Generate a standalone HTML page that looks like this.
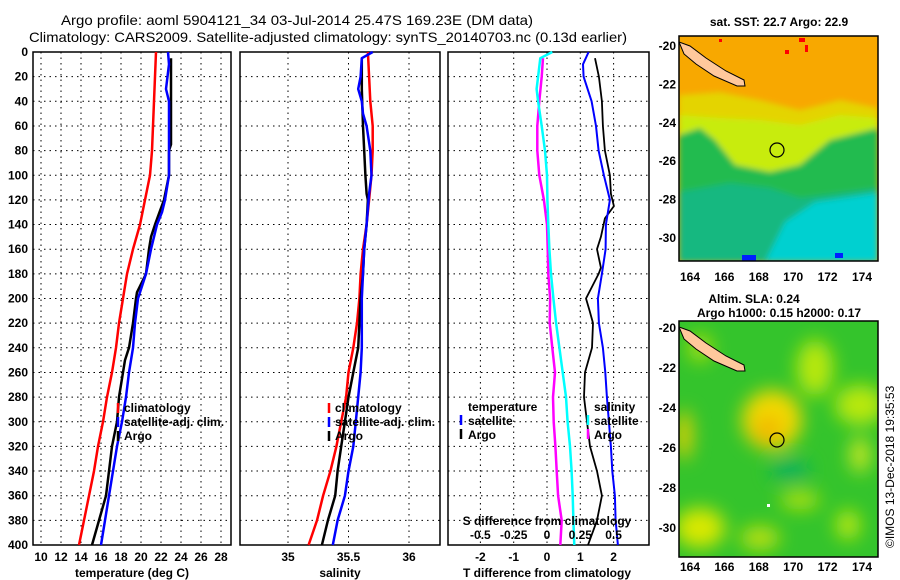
<!DOCTYPE html>
<html><head><meta charset="utf-8"><style>
html,body{margin:0;padding:0;background:#fff;}
svg{display:block;font-family:"Liberation Sans",Arial,sans-serif;}
.t{font-size:12px;font-weight:bold;fill:#000;}
.h{font-size:14px;fill:#000;}
</style></head><body>
<svg id="fig" width="900" height="580" viewBox="0 0 900 580" xmlns="http://www.w3.org/2000/svg">
<text class="h" x="61" y="25" textLength="472" lengthAdjust="spacingAndGlyphs">Argo profile: aoml 5904121_34 03-Jul-2014 25.47S 169.23E (DM data)</text>
<text class="h" x="29" y="42" textLength="598" lengthAdjust="spacingAndGlyphs">Climatology: CARS2009. Satellite-adjusted climatology: synTS_20140703.nc (0.13d earlier)</text>
<g id="panels"></g>
<g id="maps">
 <defs>
  <clipPath id="c1"><rect x="679" y="36" width="199" height="225"/></clipPath>
  <clipPath id="c2"><rect x="679" y="321" width="199" height="236"/></clipPath>
  <filter id="bl" x="-50%" y="-50%" width="200%" height="200%"><feGaussianBlur stdDeviation="9"/></filter>
  <filter id="bl2" x="-20%" y="-20%" width="140%" height="140%"><feGaussianBlur stdDeviation="3"/></filter>
 </defs>
 <g clip-path="url(#c1)">
  <rect x="679" y="36" width="199" height="225" fill="#f8a800"/>
  <g filter="url(#bl2)">
  <path d="M679 95 L720 92 L760 100 L800 110 L840 100 L878 108 L878 262 L679 262Z" fill="#e4d400"/>
  <path d="M679 115 L720 118 L760 120 L800 125 L840 115 L878 118 L878 262 L679 262Z" fill="#c8ec10"/>
  <path d="M679 135 L700 128 L715 140 L735 165 L770 172 L800 165 L830 140 L878 128 L878 262 L679 262Z" fill="#20bb50"/>
  <path d="M679 192 L730 183 L770 188 L800 198 L878 188 L878 262 L679 262Z" fill="#14b880"/>
  <path d="M765 262 L785 222 L815 202 L850 197 L878 193 L878 262Z" fill="#00d0d0"/>
  </g>
  <rect x="742" y="255" width="14" height="7" fill="#0020ff"/>
  <rect x="835" y="253" width="8" height="5" fill="#0020ff"/>
  <rect x="799" y="38" width="6" height="4" fill="#ff0000"/>
  <rect x="805" y="45" width="3" height="7" fill="#ff0000"/>
  <rect x="785" y="50" width="4" height="4" fill="#ff0000"/>
  <rect x="719" y="39" width="3" height="3" fill="#ff0000"/>
  <path d="M679 42 L690 46 L706 58 L726 71 L744 80 L745 86 L737 86 L714 76 L696 64 L684 54Z" fill="#ffc89c" stroke="#000" stroke-width="1"/>
  <circle cx="777" cy="150" r="7" fill="none" stroke="#000" stroke-width="1.2"/>
 </g>
 <rect x="679" y="36" width="199" height="225" fill="none" stroke="#000" stroke-width="1.5"/>
 <g clip-path="url(#c2)">
  <rect x="679" y="321" width="199" height="236" fill="#34c42c"/>
  <g filter="url(#bl)">
   <ellipse cx="772" cy="420" rx="30" ry="30" fill="#f2d800"/>
   <ellipse cx="768" cy="430" rx="14" ry="14" fill="#f0b800"/>
   <ellipse cx="815" cy="368" rx="18" ry="28" fill="#b8e810"/>
   <ellipse cx="860" cy="405" rx="25" ry="20" fill="#b8e810"/>
   <ellipse cx="860" cy="455" rx="10" ry="18" fill="#c8e820"/>
   <ellipse cx="700" cy="528" rx="25" ry="20" fill="#d8e800"/>
   <ellipse cx="760" cy="538" rx="20" ry="12" fill="#b8e010"/>
   <ellipse cx="848" cy="525" rx="12" ry="15" fill="#b8e810"/>
   <ellipse cx="684" cy="435" rx="8" ry="25" fill="#e8d000"/>
   <ellipse cx="700" cy="348" rx="12" ry="14" fill="#a8e010"/>
   <ellipse cx="790" cy="470" rx="20" ry="10" fill="#10b060"/>
   <ellipse cx="800" cy="500" rx="20" ry="10" fill="#a8e010"/>
  </g>
  <path d="M679 327 L690 331 L706 343 L726 356 L744 365 L745 371 L737 371 L714 361 L696 349 L684 339Z" fill="#ffc89c" stroke="#000" stroke-width="1"/>
  <circle cx="777" cy="440" r="7" fill="none" stroke="#000" stroke-width="1.2"/>
  <rect x="767" y="504" width="3" height="3" fill="#fff"/>
 </g>
 <rect x="679" y="321" width="199" height="236" fill="none" stroke="#000" stroke-width="1.5"/>
 <text class="t" x="779" y="26" text-anchor="middle">sat. SST: 22.7 Argo: 22.9</text>
 <text class="t" x="754" y="303" text-anchor="middle">Altim. SLA: 0.24</text>
 <text class="t" x="779" y="317" text-anchor="middle">Argo h1000: 0.15 h2000: 0.17</text>
 <text transform="translate(894,548) rotate(-90)" font-size="12" fill="#000">©IMOS 13-Dec-2018 19:35:53</text>
</g>
</svg>
<script>
// ---- data ----
const depthTicks=[0,20,40,60,80,100,120,140,160,180,200,220,240,260,280,300,320,340,360,380,400];
const tempTicks=[10,12,14,16,18,20,22,24,26,28];
const salTicks=[35,35.5,36];
const salTickLabels=["35","35.5","36"];
const tdiffTicks=[-2,-1,0,1,2];
const sdiffTicks=[-0.5,-0.25,0,0.25,0.5];
const sdiffTickLabels=["-0.5","-0.25","0","0.25","0.5"];
const stdDepth=[0,20,40,60,80,100,120,140,160,180,200,220,240,260,280,300,320,340,360,380,400];
const tempClim=[21.5,21.4,21.3,21.2,21.1,20.9,20.4,19.9,19.2,18.6,18.2,17.8,17.5,17.1,16.6,16.2,15.7,15.3,14.8,14.3,13.8];
const tempSatDepth=[0,10,30,40,60,80,100,110,120,130,140,160,180,200,220,240,260,280,300,320,340,360,380,400];
const tempSat=[22.7,22.8,22.5,22.8,22.8,22.8,22.8,22.6,22.4,22.1,21.6,21.0,20.5,19.7,19.4,19.2,18.8,18.5,18.1,17.6,17.2,16.8,16.4,16.0];
const tempArgoDepth=[5,40,75,80,100,120,140,150,160,180,195,200,220,240,250,260,280,300,320,340,360,380,400];
const tempArgo=[23.0,23.0,23.0,22.8,22.8,22.3,21.4,21.0,20.8,20.5,19.6,19.5,19.2,18.8,18.4,18.2,17.8,17.6,17.1,16.8,16.5,15.8,15.1];
const salClim=[35.66,35.67,35.68,35.70,35.70,35.69,35.67,35.65,35.62,35.60,35.59,35.57,35.54,35.50,35.48,35.44,35.40,35.35,35.29,35.24,35.17];
const salSatDepth=[0,5,20,30,40,50,60,80,100,115,140,160,180,200,220,240,260,280,300,320,340,360,380,400];
const salSat=[35.70,35.61,35.60,35.58,35.61,35.62,35.65,35.68,35.69,35.67,35.65,35.63,35.62,35.61,35.61,35.61,35.60,35.58,35.56,35.54,35.50,35.47,35.41,35.37];
const salArgoDepth=[5,30,60,80,100,115,120,140,160,180,200,220,240,260,280,300,320,340,360,380,400];
const salArgo=[35.61,35.61,35.62,35.63,35.64,35.65,35.66,35.65,35.63,35.62,35.60,35.59,35.58,35.54,35.50,35.47,35.44,35.41,35.39,35.33,35.28];
const tdSatDepth=[0,10,20,40,60,80,100,120,140,160,180,200,220,240,260,280,300,320,340,360,380,400];
const tdSat=[1.25,1.08,1.1,1.34,1.47,1.55,1.71,1.89,1.77,1.76,1.65,1.53,1.56,1.68,1.75,1.8,1.86,1.92,1.96,2.04,2.06,2.13];
const tdArgoDepth=[5,20,40,60,80,100,115,125,135,150,160,175,180,200,210,220,240,260,280,300,320,340,360,380,400];
const tdArgo=[1.44,1.56,1.65,1.68,1.74,1.89,1.92,2.01,1.74,1.62,1.5,1.62,1.55,1.17,1.28,1.38,1.35,1.14,1.11,1.2,1.29,1.5,1.65,1.5,1.23];
const sdSatDepth=[0,5,20,30,40,60,80,100,120,140,160,180,200,220,240,260,280,300,320,340,360,380,400];
const sdSat=[0.04,-0.05,-0.067,-0.078,-0.067,-0.04,-0.015,0,0.003,0.01,0.018,0.03,0.048,0.068,0.093,0.118,0.143,0.155,0.173,0.185,0.193,0.198,0.205];
const sdArgoDepth=[5,20,40,60,80,100,120,140,160,180,200,220,240,260,280,300,320,340,360,380,400];
const sdArgo=[-0.03,-0.04,-0.058,-0.073,-0.073,-0.058,-0.023,0,0.005,0.01,0.023,0.02,0.04,0.06,0.045,0.05,0.063,0.073,0.083,0.11,0.1];
const lonTicks=[164,166,168,170,172,174];
const latTicks=[-20,-22,-24,-26,-28,-30];

const NS="http://www.w3.org/2000/svg";
const root=document.getElementById('panels');
function mk(tag,attrs,parent){const e=document.createElementNS(NS,tag);for(const k in attrs)e.setAttribute(k,attrs[k]);(parent||root).appendChild(e);return e;}
const Y0=52,Y1=545;
function yD(d){return Y0+d*(Y1-Y0)/400;}
const xT=v=>41+(v-10)*10;
const xS=v=>348.5+(v-35.5)*121;
const xTD=v=>547+v*33.3;
const xSD=v=>547+v*133.2;
const panels=[{x0:33,x1:231},{x0:240,x1:440},{x0:448,x1:649}];

function gridAndFrame(p,ticks,xf,name){
  for(const d of depthTicks){ if(d===0||d===400)continue;
    const l=mk('line',{x1:p.x0,x2:p.x1,y1:yD(d),y2:yD(d),stroke:'#000','stroke-width':1,'stroke-dasharray':'1.5,4'});
    
    
  }
  for(const t of ticks){
    const l=mk('line',{x1:xf(t),x2:xf(t),y1:Y0,y2:Y1,stroke:'#000','stroke-width':1,'stroke-dasharray':'1.5,4'});
    
    
  }
  const r=mk('rect',{x:p.x0,y:Y0,width:p.x1-p.x0,height:Y1-Y0,fill:'none',stroke:'#000','stroke-width':1.5});
  
  
}
function series(ds,vs,xf,color,name,w){
  let d='';
  for(let i=0;i<ds.length;i++)d+=(i?'L':'M')+xf(vs[i]).toFixed(1)+' '+yD(ds[i]).toFixed(1);
  const p=mk('path',{d:d,fill:'none',stroke:color,'stroke-width':w||2.5,'stroke-linejoin':'round'});
  
  
}
function text(x,y,s,anchor,name,size){
  const t=mk('text',{x:x,y:y,class:'t','text-anchor':anchor||'start'});
  if(size)t.setAttribute('font-size',size);
  t.textContent=s;
  
  
  return t;
}
function legMark(x,y,color,name){
  const l=mk('line',{x1:x,x2:x,y1:y-10,y2:y,stroke:color,'stroke-width':2.5});
  
  
}

// panel 1
gridAndFrame(panels[0],tempTicks,xT,'temp-panel');
for(const d of depthTicks) text(28,yD(d)+4,String(d),'end','depth-tick-label');
for(const t of tempTicks) text(xT(t),561,String(t),'middle','temp-tick-label');
text(132,577,'temperature (deg C)','middle','temp-x-axis-title');
series(stdDepth,tempClim,xT,'#ff0000','temp-climatology-line');
series(tempArgoDepth,tempArgo,xT,'#000','temp-argo-line');
series(tempSatDepth,tempSat,xT,'#0000ff','temp-satellite-line');
legMark(118,413,'#ff0000','legend-climatology-marker');text(124,412,'climatology','start','legend-climatology');
legMark(118,427,'#0000ff','legend-satellite-marker');text(124,426,'satellite-adj. clim.','start','legend-satellite-adj');
legMark(118,441,'#000','legend-argo-marker');text(124,440,'Argo','start','legend-argo');

// panel 2
gridAndFrame(panels[1],salTicks,xS,'sal-panel');
salTicks.forEach((t,i)=>text(xS(t),561,salTickLabels[i],'middle','sal-tick-label'));
text(340,577,'salinity','middle','sal-x-axis-title');
series(stdDepth,salClim,xS,'#ff0000','sal-climatology-line');
series(salArgoDepth,salArgo,xS,'#000','sal-argo-line');
series(salSatDepth,salSat,xS,'#0000ff','sal-satellite-line');
legMark(329,413,'#ff0000','legend2-climatology-marker');text(335,412,'climatology','start','legend2-climatology');
legMark(329,427,'#0000ff','legend2-satellite-marker');text(335,426,'satellite-adj. clim.','start','legend2-satellite-adj');
legMark(329,441,'#000','legend2-argo-marker');text(335,440,'Argo','start','legend2-argo');

// panel 3
gridAndFrame(panels[2],tdiffTicks,xTD,'diff-panel');
tdiffTicks.forEach(t=>text(xTD(t),561,String(t),'middle','tdiff-tick-label'));
text(547,577,'T difference from climatology','middle','tdiff-x-axis-title');
series(sdArgoDepth,sdArgo,xSD,'#ff00ff','sdiff-argo-line');
series(sdSatDepth,sdSat,xSD,'#00ffff','sdiff-satellite-line');
series(tdArgoDepth,tdArgo,xTD,'#000','tdiff-argo-line',1.8);
series(tdSatDepth,tdSat,xTD,'#0000ff','tdiff-satellite-line',2);
text(468,411,'temperature','start','legend3-temperature');
legMark(461,425,'#0000ff','legend3-tsat-marker');text(468,425,'satellite','start','legend3-tsat');
legMark(461,439,'#000','legend3-targo-marker');text(468,439,'Argo','start','legend3-targo');
text(594,411,'salinity','start','legend3-salinity');
legMark(588,425,'#00ffff','legend3-ssat-marker');text(594,425,'satellite','start','legend3-ssat');
legMark(588,439,'#ff00ff','legend3-sargo-marker');text(594,439,'Argo','start','legend3-sargo');
text(547,525,'S difference from climatology','middle','sdiff-axis-title');
sdiffTicks.forEach((t,i)=>text(xSD(t),539,sdiffTickLabels[i],'middle','sdiff-tick-label'));

// map axes
const xLon=v=>690+(v-164)*17.2;
const yLatTop=v=>45+(-20-v)*19.2;
const yLatBot=v=>327+(-20-v)*20;
for(const lo of lonTicks){
  text(xLon(lo),281,String(lo),'middle','sst-lon-tick-label',13);
  text(xLon(lo),571,String(lo),'middle','sla-lon-tick-label',13);
  for(const [yy,dir] of [[36,1],[261,-1],[321,1],[557,-1]]){
    const l=mk('line',{x1:xLon(lo),x2:xLon(lo),y1:yy,y2:yy+3*dir,stroke:'#000'});
    
    
  }
}
for(const la of latTicks){
  text(676,yLatTop(la)+5,String(la),'end','sst-lat-tick-label',13);
  text(676,yLatBot(la)+5,String(la),'end','sla-lat-tick-label',13);
}
</script>
</body></html>
